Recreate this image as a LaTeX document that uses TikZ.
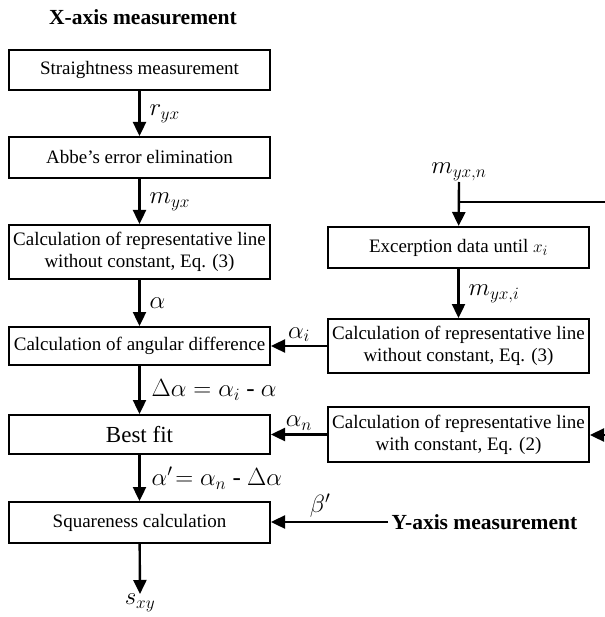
\documentclass[tikz,border=0pt]{standalone}
\usepackage{amsmath}
\usepackage{fontspec}
\setmainfont{Liberation Serif}
\usepackage{tikz}
\usetikzlibrary{arrows.meta,positioning,calc}
\tikzset{
  >={Triangle[length=14pt,width=13pt]},
  stepbox/.style={draw,line width=2pt,minimum width=261pt,inner sep=1pt,align=center,
    font=\fontsize{19}{22}\selectfont},
  flow/.style={->,line width=2.4pt},
  line/.style={line width=2.4pt},
  lbl/.style={font=\fontsize{25}{27}\selectfont,inner sep=3pt},
  head/.style={font=\bfseries\fontsize{21.5}{24}\selectfont},
}
\begin{document}
\begin{tikzpicture}[x=1pt,y=-1pt]
  \useasboundingbox (0,0) rectangle (604,617);
  \node[head] (xaxis) at (143,17) {X-axis measurement};

  % left column
  \node[stepbox,minimum height=40pt] (straight) at (139.5,70) {Straightness measurement};
  \node[stepbox,minimum height=41pt] (abbe) at (139.5,157.5) {Abbe's error elimination};
  \node[stepbox,minimum height=54pt] (repline) at (139.5,252) {Calculation of representative line\\without constant, Eq. (3)};
  \node[stepbox,minimum height=38pt] (angdiff) at (139.5,346) {Calculation of angular difference};
  \node[stepbox,minimum height=39pt,font=\fontsize{23}{26}\selectfont] (bestfit) at (139.5,434.5) {Best fit};
  \node[stepbox,minimum height=41pt] (square) at (139.5,522.5) {Squareness calculation};
  \coordinate (sout) at (140,594);
  \node[lbl,anchor=north,inner sep=0pt] (sxy) at (sout) {$s_{xy}$};

  % right column
  \node[stepbox,minimum height=41pt] (excerpt) at (458.5,247.5) {Excerption data until $x_i$};
  \node[stepbox,minimum height=54pt] (repnoconst) at (458.5,346) {Calculation of representative line\\without constant, Eq. (3)};
  \node[stepbox,minimum height=55pt] (repconst) at (458.5,434.5) {Calculation of representative line\\with constant, Eq. (2)};
  \node[lbl,anchor=south,inner sep=1pt] (myxn) at (459,182) {$m_{yx,n}$};
  \coordinate (branch) at (459,202);
  \coordinate (edgetop) at (630,202);
  \coordinate (edgebot) at (630,435);
  \node[head,anchor=west] (yaxis) at (388,522) {Y-axis measurement};

  % connectors
  \draw[flow] (straight) -- node[lbl,right=6pt] {$r_{yx}$} (abbe);
  \draw[flow] (abbe) -- node[lbl,right=6pt] {$m_{yx}$} (repline);
  \draw[flow] (repline) -- node[lbl,right=6pt] {$\alpha$} (angdiff);
  \draw[flow] (angdiff) -- node[lbl,right=8pt] {$\Delta\alpha = \alpha_i$ - $\alpha$} (bestfit);
  \draw[flow] (bestfit) -- node[lbl,right=8pt] {$\alpha'\!=\alpha_n$ - $\Delta\alpha$} (square);
  \draw[flow] (square) -- (sout);
  \draw[flow] (myxn.south) -- (excerpt);
  \draw[line] (branch) -- (edgetop) -- (edgebot);
  \draw[flow] (edgebot) -- (repconst.east |- edgebot);
  \draw[flow] (excerpt) -- node[lbl,right=6pt] {$m_{yx,i}$} (repnoconst);
  \draw[flow] (repnoconst.west) -- node[lbl,above] {$\alpha_i$} (angdiff.east |- repnoconst.west);
  \draw[flow] (repconst.west) -- node[lbl,above] {$\alpha_n$} (bestfit.east |- repconst.west);
  \draw[flow] (yaxis.west) -- node[lbl,above,pos=0.58] {$\beta'$} (square.east |- yaxis.west);
\end{tikzpicture}
\end{document}
